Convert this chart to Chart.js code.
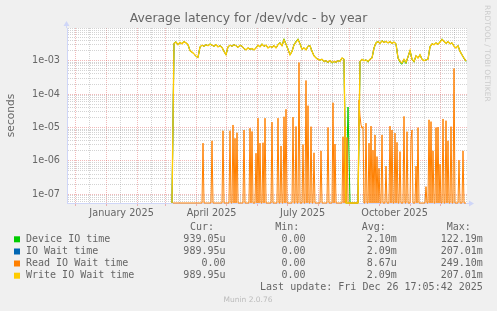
<!DOCTYPE html>
<html><head><meta charset="utf-8">
<script src="https://cdn.jsdelivr.net/npm/chart.js@4/dist/chart.umd.min.js"></script>
<style>html,body{margin:0;padding:0;background:#f0f0f0;overflow:hidden}#wrap{width:497px;height:311px}</style>
</head><body><div id="wrap"><canvas id="c" width="497" height="311"></canvas></div>
<script>
const chartTitle = "Average latency for /dev/vdc - by year";
const yAxisTitle = "seconds";
const seriesNames = ["Device IO time", "IO Wait time", "Read IO Wait time", "Write IO Wait time"];
const seriesColors = ["#00cc00", "#0066b3", "#ff8000", "#ffcc00"];
const legendHeaders = ["Cur:", "Min:", "Avg:", "Max:"];
const legendCur = ["939.05u", "989.95u", "0.00", "989.95u"];
const legendMin = ["0.00", "0.00", "0.00", "0.00"];
const legendAvg = ["2.10m", "2.09m", "8.67u", "2.09m"];
const legendMax = ["122.19m", "207.01m", "249.10m", "207.01m"];
const lastUpdate = "Last update: Fri Dec 26 17:05:42 2025";
const versionText = "Munin 2.0.76";
const watermark = "RRDTOOL / TOBI OETIKER";

// x axis: days counted from 2024-11-23
const axisDays = 400;
const monthStartDays = [8, 39, 70, 98, 129, 159, 190, 220, 251, 282, 312, 343, 373];
const midMonthDays = [22, 53, 84, 112, 143, 173, 204, 234, 265, 296, 326, 357, 387];
const monthLabelDays = [54.6, 144.6, 235.6, 327.6];
const monthLabels = ["January 2025", "April 2025", "July 2025", "October 2025"];

// y axis (seconds, logarithmic)
const yMin = 5.5e-8;
const yMax = 9.5e-3;

// main series, milliseconds, one value every 2 days from day 105
const mainFirstDay = 105;
const mainStepDays = 2;
const writeWaitMs = [0,
 3.3,3.6,3.0,3.5,3.2,3.7,3.4,3.0,
 2.0,1.8,1.6,1.35,1.25,
 2.6,2.9,2.7,3.0,2.8,3.1,2.9,2.7,3.0,2.6,2.8,2.5,1.9,1.5,
 2.6,2.9,2.7,3.0,2.8,2.5,2.9,2.7,2.3,2.1,
 2.4,2.2,2.3,2.1,2.4,2.9,2.6,3.1,2.7,2.9,2.4,2.7,2.5,2.8,2.4,
 3.0,3.4,2.8,4.2,3.1,2.2,1.5,1.9,
 3.0,3.6,4.3,3.2,2.2,2.4,2.1,2.7,2.8,
 1.9,1.4,1.2,1.1,1.05,1.1,0.95,1.0,0.9,1.0,0.88,0.95,0.9,1.0,0.95,1.2,1.1,
 0,0,0,0,0,0,0,
 0.95,1.1,1.0,1.05,0.95,1.1,1.2,
 2.4,3.4,3.7,3.3,3.9,3.5,3.8,3.4,3.7,3.3,3.6,3.2,
 1.2,0.95,0.85,1.1,0.9,1.3,2.0,1.1,0.95,1.4,1.2,1.5,1.1,1.0,1.05,1.1,
 2.6,3.2,3.0,3.4,3.1,3.6,4.3,3.8,3.3,3.7,3.2,3.4,2.7,2.4,2.8,1.9,1.5,1.2,0.99];
const ioWaitMs = [0,
 3.3,3.6,3.0,3.5,3.2,3.7,3.4,3.0,
 2.0,1.8,1.6,1.35,1.25,
 2.6,2.9,2.7,3.0,2.8,3.1,2.9,2.7,3.0,2.6,2.8,2.5,1.9,1.5,
 2.6,2.9,2.7,3.0,2.8,2.5,2.9,2.7,2.3,2.1,
 2.4,2.2,2.3,2.1,2.4,2.9,2.6,3.1,2.7,2.9,2.4,2.7,2.5,2.8,2.4,
 3.0,3.4,2.8,4.2,3.1,2.2,1.5,1.9,
 3.0,3.6,4.3,3.2,2.2,2.4,2.1,2.7,2.8,
 1.9,1.4,1.2,1.1,1.05,1.1,0.95,1.0,0.9,1.0,0.88,0.95,0.9,1.0,0.95,1.2,1.1,
 0,0,0,0,0,0,0,
 0.95,1.1,1.0,1.05,0.95,1.1,1.2,
 2.4,3.4,3.7,3.3,3.9,3.5,3.8,3.4,3.7,3.3,3.6,3.2,
 1.2,0.95,0.85,1.1,0.9,1.3,2.0,1.1,0.95,1.4,1.2,1.5,1.1,1.0,1.05,1.1,
 2.6,3.2,3.0,3.4,3.1,3.6,4.3,3.8,3.3,3.7,3.2,3.4,2.7,2.4,2.8,1.9,1.5,1.2,0.99];
const deviceIoMs = [0,
 3.3,3.7,3.0,3.5,3.2,3.8,3.4,3.0,
 2.0,1.8,1.6,1.35,1.25,
 2.6,2.9,2.7,3.0,2.8,3.2,2.9,2.7,3.0,2.6,2.8,2.5,1.9,1.5,
 2.6,2.9,2.7,3.0,2.8,2.5,2.9,2.7,2.3,2.1,
 2.4,2.2,2.3,2.1,2.4,2.9,2.6,3.2,2.7,2.9,2.4,2.7,2.5,2.8,2.4,
 3.0,3.5,2.8,4.5,3.1,2.2,1.5,1.9,
 3.0,3.8,4.5,3.2,2.2,2.4,2.1,2.7,2.8,
 1.9,1.4,1.2,1.1,1.05,1.1,0.92,1.0,0.87,1.0,0.84,0.95,0.9,1.0,0.95,1.2,1.1,
 0,0.041,0,0,0,0,0,
 0.95,1.1,1.0,1.05,0.9,1.1,1.2,
 2.4,3.5,3.8,3.3,4.0,3.5,3.8,3.4,3.7,3.3,3.6,3.2,
 1.2,0.88,0.78,1.05,0.82,1.3,2.0,1.1,0.9,1.4,1.2,1.5,1.1,1.0,1.05,1.1,
 2.6,3.2,3.0,3.4,3.1,3.7,4.5,3.8,3.3,3.7,3.2,3.4,2.7,2.4,2.8,1.9,1.5,1.15,0.94];

// read wait: zero every day except these spikes (microseconds)
const readFirstDay = 106;
const readLastDay = 399;
const readSpikeDays = [136,145,156,163,166,168,170,177,183,185,189,191,193,196,198,205,211,214,217,219,
 226,229,232,236,239,241,244,247,254,261,266,268,276,278,280,292,293,294,295,296,299,302,
 304,306,308,310,312,315,319,323,325,328,330,333,337,340,344,345,349,351,359,362,
 364,366,369,371,373,376,379,381,384,387,392,396];
const readSpikeUs = [3.4,4.0,8.0,8.0,11.9,4.75,7.0,8.4,9.5,7.6,1.7,19,3.4,3.5,19,14.5,19,2.8,21,35,
 20.5,10.7,880,3.1,255,45,10.6,1.75,2.0,10,55,3.2,5.3,10.6,5,66,22,12,9.5,10.6,13.5,3.4,
 11,2.1,6,1.35,0.6,6,0.7,11,8.4,6.8,3.6,1.9,21.5,7.5,4.4,8.4,0.7,9.9,0.17,17,
 15,2.0,9.9,10.3,0.8,18,16,4,10.6,585,1.05,2.0];

// ---- build datasets ----
const floorY = v => (v > 0 ? v : yMin);   // zero drawn on the lower edge, like rrdtool
const mainPts = arr => arr.map((v, i) => ({ x: mainFirstDay + i * mainStepDays, y: floorY(v / 1000) }));
const readPts = [];
for (let d = readFirstDay; d <= readLastDay; d++) {
  const k = readSpikeDays.indexOf(d);
  readPts.push({ x: d, y: floorY(k >= 0 ? readSpikeUs[k] / 1e6 : 0) });
}
const seriesData = [mainPts(deviceIoMs), mainPts(ioWaitMs), readPts, mainPts(writeWaitMs)];
const drawOrder = [3, 2, 1, 0];
const lineWidths = [1, 1, 1, 1.35];

const FONT = "DejaVu Sans";
const MONO = "DejaVu Sans Mono";
const TXT = "#666666";
const GRID_MINOR = "rgba(150,150,150,0.42)";
const GRID_MAJOR = "rgba(222,79,79,0.4)";
const AXIS_COL = "#cfd6f8";

const decor = {
  id: "decor",
  beforeDraw(chart) {
    const { ctx, chartArea: a, width, height } = chart;
    ctx.save();
    ctx.fillStyle = "#f0f0f0";
    ctx.fillRect(0, 0, width, height);
    ctx.fillStyle = "#ffffff";
    ctx.fillRect(a.left, a.top, a.right - a.left, a.bottom - a.top);
    ctx.restore();
  },
  afterDraw(chart) {
    const { ctx, chartArea: a, width } = chart;
    ctx.save();
    ctx.fillStyle = TXT;
    ctx.font = "12.4px '" + FONT + "'";
    ctx.textAlign = "center";
    ctx.textBaseline = "middle";
    ctx.fillText(chartTitle, width / 2, 19);
    ctx.strokeStyle = AXIS_COL;
    ctx.fillStyle = AXIS_COL;
    ctx.lineWidth = 1;
    const lx = Math.round(a.left) - 0.5;
    ctx.beginPath(); ctx.moveTo(lx, a.top); ctx.lineTo(lx, a.top - 3); ctx.stroke();
    ctx.beginPath(); ctx.moveTo(lx, a.top - 7); ctx.lineTo(lx - 3, a.top - 2); ctx.lineTo(lx + 3, a.top - 2); ctx.closePath(); ctx.fill();
    const by = Math.round(a.bottom) + 0.5;
    ctx.beginPath(); ctx.moveTo(a.right, by); ctx.lineTo(a.right + 3, by); ctx.stroke();
    ctx.beginPath(); ctx.moveTo(a.right + 7, by); ctx.lineTo(a.right + 2, by - 3); ctx.lineTo(a.right + 2, by + 3); ctx.closePath(); ctx.fill();
    ctx.save();
    ctx.translate(487, 5);
    ctx.rotate(Math.PI / 2);
    ctx.fillStyle = "#cccccc";
    ctx.font = "7.5px '" + FONT + "'";
    ctx.textAlign = "left";
    ctx.textBaseline = "middle";
    ctx.fillText(watermark, 0, 0);
    ctx.restore();
    ctx.font = "10px '" + MONO + "'";
    ctx.textBaseline = "middle";
    ctx.fillStyle = TXT;
    ctx.textAlign = "left";
    const headerX = [190, 275.3, 361.7, 446.7];
    legendHeaders.forEach((h, i) => ctx.fillText(h, headerX[i], 227.3));
    const rowY = [239.3, 251.5, 263.5, 275.7];
    const colRight = [225.5, 305.5, 396.8, 482.8];
    seriesNames.forEach((n, i) => {
      ctx.fillStyle = seriesColors[i];
      ctx.fillRect(14, rowY[i] - 3, 6, 6);
      ctx.fillStyle = TXT;
      ctx.textAlign = "left";
      ctx.fillText(n, 26, rowY[i]);
      ctx.textAlign = "right";
      [legendCur[i], legendMin[i], legendAvg[i], legendMax[i]].forEach((v, j) => ctx.fillText(v, colRight[j], rowY[i]));
    });
    ctx.textAlign = "right";
    ctx.fillText(lastUpdate, 482.8, 287.7);
    ctx.textAlign = "center";
    ctx.fillStyle = "#bbbbbb";
    ctx.font = "7.5px '" + FONT + "'";
    ctx.fillText(versionText, 248, 300);
    ctx.restore();
  }
};

new Chart(document.getElementById("c"), {
  type: "line",
  data: {
    datasets: seriesNames.map((n, i) => ({
      label: n,
      data: seriesData[i],
      borderColor: seriesColors[i],
      backgroundColor: seriesColors[i],
      borderWidth: lineWidths[i],
      pointRadius: 0,
      tension: 0,
      fill: false,
      clip: 1,
      order: drawOrder[i]
    }))
  },
  options: {
    responsive: false,
    devicePixelRatio: 1,
    animation: false,
    events: [],
    layout: { padding: { top: 28, right: 30, bottom: 88, left: 0 } },
    plugins: { legend: { display: false }, tooltip: { enabled: false }, title: { display: false } },
    scales: {
      x: {
        type: "linear",
        min: 0,
        max: axisDays,
        bounds: "data",
        afterBuildTicks(scale) {
          const t = [];
          monthStartDays.forEach(v => t.push({ value: v, kind: "major" }));
          midMonthDays.forEach(v => t.push({ value: v, kind: "minor" }));
          monthLabelDays.forEach((v, i) => t.push({ value: v, kind: "label", text: monthLabels[i] }));
          t.sort((p, q) => p.value - q.value);
          scale.ticks = t;
        },
        afterFit(scale) { scale.height = 20; },
        ticks: {
          autoSkip: false,
          maxRotation: 0,
          minRotation: 0,
          padding: 1.5,
          color: TXT,
          font: { family: FONT, size: 9.7 },
          callback: (v, i, ticks) => (ticks[i].kind === "label" ? ticks[i].text : "")
        },
        grid: {
          color: c => (c.tick && c.tick.kind === "major" ? GRID_MAJOR : c.tick && c.tick.kind === "minor" ? GRID_MINOR : "rgba(0,0,0,0)"),
          tickColor: c => (c.tick && c.tick.kind === "major" ? GRID_MAJOR : "rgba(0,0,0,0)"),
          tickLength: 3,
          lineWidth: 1
        },
        border: { display: true, color: AXIS_COL, width: 1, dash: [1, 1] }
      },
      y: {
        type: "logarithmic",
        min: yMin,
        max: yMax,
        bounds: "data",
        afterBuildTicks(scale) {
          const t = [];
          for (let e = -8; e <= -3; e++) {
            for (let m = 1; m <= 9; m++) {
              const v = m * Math.pow(10, e);
              if (v >= yMin && v <= yMax) t.push({ value: v, decade: m === 1, exp: e });
            }
          }
          scale.ticks = t;
        },
        afterFit(scale) { scale.width = 67; },
        title: {
          display: true,
          text: yAxisTitle,
          color: TXT,
          font: { family: FONT, size: 10.6 },
          padding: { top: 4.6, bottom: 0 }
        },
        ticks: {
          autoSkip: false,
          padding: 7,
          color: TXT,
          font: { family: FONT, size: 9.7 },
          callback: (v, i, ticks) => (ticks[i].decade ? "1e-0" + (-ticks[i].exp) : "")
        },
        grid: {
          drawTicks: false,
          color: c => (c.tick && c.tick.decade ? GRID_MAJOR : GRID_MINOR),
          lineWidth: 1
        },
        border: { display: true, color: AXIS_COL, width: 1, dash: [1, 1] }
      }
    }
  },
  plugins: [decor]
});
</script>
</body></html>
